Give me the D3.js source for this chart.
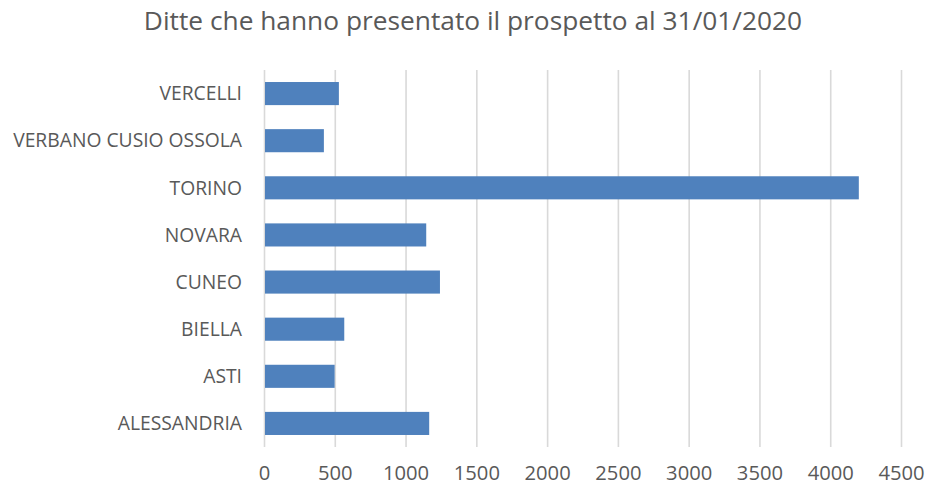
<!DOCTYPE html>
<html>
<head>
<meta charset="utf-8">
<script src="https://cdn.jsdelivr.net/npm/d3@7"></script>
<style>
  html, body { margin: 0; padding: 0; background: #fff; }
  svg { display: block; font-family: "Open Sans", sans-serif; }
</style>
</head>
<body>
<svg id="chart" width="925" height="487"></svg>
<script>
const title = 'Ditte che hanno presentato il prospetto al 31/01/2020';
const province = ['ALESSANDRIA', 'ASTI', 'BIELLA', 'CUNEO', 'NOVARA', 'TORINO', 'VERBANO CUSIO OSSOLA', 'VERCELLI'];
const ditte = [1167, 499, 567, 1243, 1146, 4202, 423, 529];
const xTicks = [0, 500, 1000, 1500, 2000, 2500, 3000, 3500, 4000, 4500];

const svg = d3.select('#chart');
const plot = { left: 264, right: 901, top: 70, bottom: 447 };
const textColor = '#595959';

const x = d3.scaleLinear().domain([0, 4500]).range([plot.left, plot.right]);
// top to bottom: last category first (Excel bar order)
const y = d3.scaleBand().domain(province.slice().reverse()).range([plot.top, plot.bottom]).paddingInner(0.51).paddingOuter(0.255);

svg.append('text')
  .attr('x', 473).attr('y', 29.5)
  .attr('text-anchor', 'middle')
  .attr('fill', textColor)
  .attr('font-size', 26.3)
  .text(title);

const grid = svg.append('g').attr('transform', `translate(0,${plot.bottom})`)
  .call(d3.axisBottom(x).tickValues(xTicks).tickSize(-(plot.bottom - plot.top)).tickFormat(d3.format('d')).tickPadding(19));
grid.select('.domain').remove();
grid.selectAll('line').attr('stroke', '#d9d9d9').attr('stroke-width', 1.6);
grid.selectAll('text').attr('fill', textColor).attr('font-size', 20.2).attr('font-family', '"Open Sans", sans-serif');

svg.append('g').selectAll('rect').data(province).join('rect')
  .attr('x', x(0) + 1)
  .attr('y', (d) => y(d))
  .attr('width', (d, i) => x(ditte[i]) - x(0) - 1)
  .attr('height', y.bandwidth())
  .attr('fill', '#4f81bd');

svg.append('g').selectAll('text').data(province).join('text')
  .attr('x', 242)
  .attr('y', (d) => y(d) + y.bandwidth() / 2)
  .attr('dy', '0.35em')
  .attr('text-anchor', 'end')
  .attr('fill', textColor)
  .attr('font-size', 19.3)
  .text((d) => d);
</script>
</body>
</html>
